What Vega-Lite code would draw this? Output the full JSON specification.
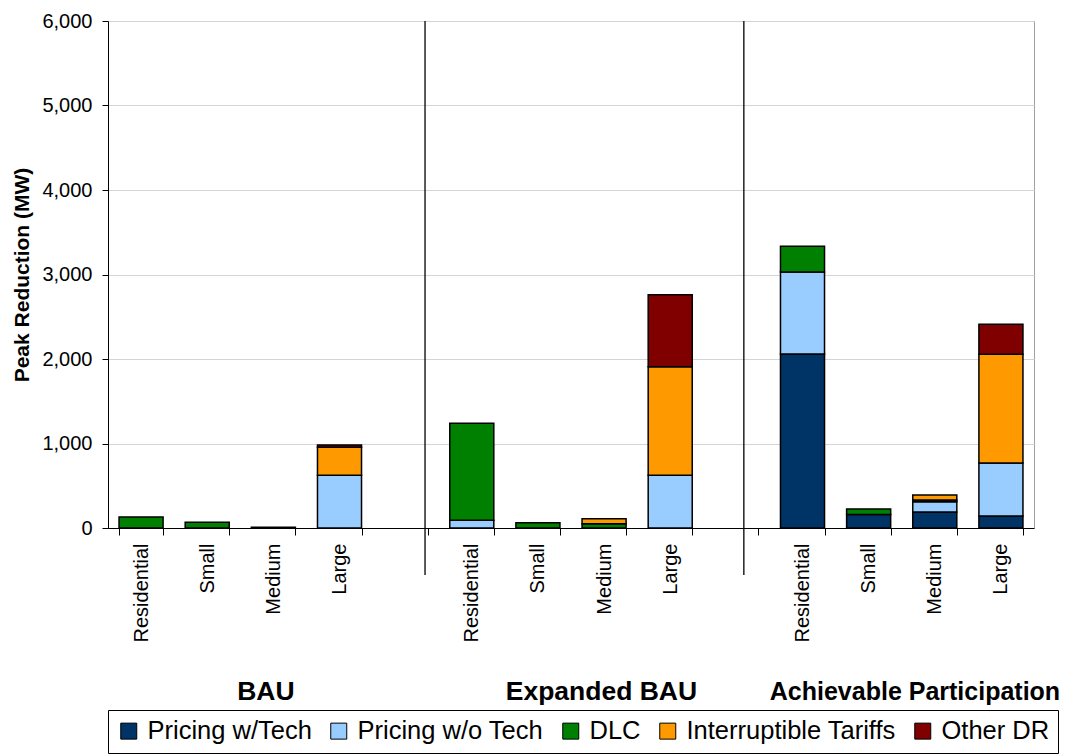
{
  "$schema": "https://vega.github.io/schema/vega-lite/v6.json",
  "width": 926,
  "height": 507,
  "autosize": "none",
  "padding": {"left": 108, "top": 21, "right": 31, "bottom": 226},
  "background": "white",
  "config": {
    "font": "Liberation Sans",
    "view": {"stroke": "#a0a0a0", "strokeWidth": 1}
  },
  "datasets": {
    "bars": [
      {"slot": "BAU|Residential", "type": "DLC", "k": 3, "mw": 130},
      {"slot": "BAU|Small", "type": "DLC", "k": 3, "mw": 67},
      {"slot": "BAU|Medium", "type": "DLC", "k": 3, "mw": 10},
      {"slot": "BAU|Large", "type": "Pricing w/o Tech", "k": 2, "mw": 623},
      {"slot": "BAU|Large", "type": "Interruptible Tariffs", "k": 4, "mw": 332},
      {"slot": "BAU|Large", "type": "Other DR", "k": 5, "mw": 27},
      {"slot": "Expanded BAU|Residential", "type": "Pricing w/o Tech", "k": 2, "mw": 91},
      {"slot": "Expanded BAU|Residential", "type": "DLC", "k": 3, "mw": 1148},
      {"slot": "Expanded BAU|Small", "type": "DLC", "k": 3, "mw": 63},
      {"slot": "Expanded BAU|Medium", "type": "DLC", "k": 3, "mw": 50},
      {"slot": "Expanded BAU|Medium", "type": "Interruptible Tariffs", "k": 4, "mw": 60},
      {"slot": "Expanded BAU|Large", "type": "Pricing w/o Tech", "k": 2, "mw": 623},
      {"slot": "Expanded BAU|Large", "type": "Interruptible Tariffs", "k": 4, "mw": 1286},
      {"slot": "Expanded BAU|Large", "type": "Other DR", "k": 5, "mw": 852},
      {"slot": "Achievable|Residential", "type": "Pricing w/Tech", "k": 1, "mw": 2059},
      {"slot": "Achievable|Residential", "type": "Pricing w/o Tech", "k": 2, "mw": 971},
      {"slot": "Achievable|Residential", "type": "DLC", "k": 3, "mw": 303},
      {"slot": "Achievable|Small", "type": "Pricing w/Tech", "k": 1, "mw": 160},
      {"slot": "Achievable|Small", "type": "DLC", "k": 3, "mw": 65},
      {"slot": "Achievable|Medium", "type": "Pricing w/Tech", "k": 1, "mw": 190},
      {"slot": "Achievable|Medium", "type": "Pricing w/o Tech", "k": 2, "mw": 122},
      {"slot": "Achievable|Medium", "type": "DLC", "k": 3, "mw": 20},
      {"slot": "Achievable|Medium", "type": "Interruptible Tariffs", "k": 4, "mw": 60},
      {"slot": "Achievable|Large", "type": "Pricing w/Tech", "k": 1, "mw": 142},
      {"slot": "Achievable|Large", "type": "Pricing w/o Tech", "k": 2, "mw": 627},
      {"slot": "Achievable|Large", "type": "Interruptible Tariffs", "k": 4, "mw": 1286},
      {"slot": "Achievable|Large", "type": "Other DR", "k": 5, "mw": 355}
    ]
  },
  "layer": [
    {
      "data": {"name": "bars"},
      "mark": {"type": "bar", "stroke": "black", "strokeWidth": 1.5},
      "encoding": {
        "x": {
          "field": "slot",
          "type": "nominal",
          "scale": {
            "domain": ["BAU|Residential", "BAU|Small", "BAU|Medium", "BAU|Large", "gap1|",
                       "Expanded BAU|Residential", "Expanded BAU|Small", "Expanded BAU|Medium", "Expanded BAU|Large", "gap2|",
                       "Achievable|Residential", "Achievable|Small", "Achievable|Medium", "Achievable|Large"],
            "paddingInner": 0.334,
            "paddingOuter": 0.167
          },
          "axis": {
            "title": null,
            "labelExpr": "split(datum.value, '|')[1]",
            "labelAngle": -90,
            "labelAlign": "right",
            "labelBaseline": "middle",
            "labelFontSize": 20,
            "labelColor": "black",
            "labelPadding": 8,
            "labelLimit": 0,
            "tickBand": "extent",
            "tickSize": 7,
            "tickColor": "black",
            "domainColor": "black",
            "grid": false
          }
        },
        "y": {
          "field": "mw",
          "type": "quantitative",
          "stack": "zero",
          "scale": {"domain": [0, 6000], "nice": false},
          "axis": {
            "title": "Peak Reduction (MW)",
            "titleFontSize": 21,
            "titleFontWeight": "bold",
            "titleColor": "black",
            "titlePadding": 9,
            "labelFontSize": 20,
            "labelColor": "black",
            "labelPadding": 10,
            "format": ",.0f",
            "values": [0, 1000, 2000, 3000, 4000, 5000, 6000],
            "gridColor": "#d4d4d4",
            "domainColor": "black",
            "tickColor": "black",
            "tickSize": 6
          }
        },
        "color": {
          "field": "type",
          "type": "nominal",
          "scale": {
            "domain": ["Pricing w/Tech", "Pricing w/o Tech", "DLC", "Interruptible Tariffs", "Other DR"],
            "range": ["#003366", "#99CCFF", "#008000", "#FF9900", "#800000"]
          },
          "legend": {
            "orient": "none",
            "legendX": 0,
            "legendY": 689,
            "direction": "horizontal",
            "title": null,
            "labelFontSize": 25.5,
            "labelColor": "black",
            "labelLimit": 0,
            "labelOffset": 6,
            "symbolType": "square",
            "symbolSize": 256,
            "symbolStrokeColor": "black",
            "symbolStrokeWidth": 1,
            "strokeColor": "black",
            "padding": 8,
            "columnPadding": 14
          }
        },
        "order": {"field": "k", "type": "quantitative"}
      }
    },
    {
      "data": {"values": [{"slot": "gap1|", "top": 6000, "bottom": -556}]},
      "mark": {"type": "rule", "color": "black", "strokeWidth": 1.3},
      "encoding": {
        "x": {"field": "slot", "type": "nominal", "bandPosition": 0.94},
        "y": {"field": "top", "type": "quantitative", "scale": {"domain": [0, 6000], "nice": false}},
        "y2": {"field": "bottom"}
      }
    },
    {
      "data": {"values": [{"slot": "gap2|", "top": 6000, "bottom": -556}]},
      "mark": {"type": "rule", "color": "black", "strokeWidth": 1.3},
      "encoding": {
        "x": {"field": "slot", "type": "nominal", "bandPosition": 0.67},
        "y": {"field": "top", "type": "quantitative", "scale": {"domain": [0, 6000], "nice": false}},
        "y2": {"field": "bottom"}
      }
    },
    {
      "data": {"values": [{"slot": "BAU|Medium", "label": "BAU", "ypos": -1941}]},
      "mark": {"type": "text", "fontSize": 26.5, "fontWeight": "bold", "color": "black", "align": "center", "baseline": "middle"},
      "encoding": {
        "x": {"field": "slot", "type": "nominal", "bandPosition": 0.33},
        "y": {"field": "ypos", "type": "quantitative", "scale": {"domain": [0, 6000], "nice": false}},
        "text": {"field": "label"}
      }
    },
    {
      "data": {"values": [{"slot": "Expanded BAU|Medium", "label": "Expanded BAU", "ypos": -1941}]},
      "mark": {"type": "text", "fontSize": 26.5, "fontWeight": "bold", "color": "black", "align": "center", "baseline": "middle"},
      "encoding": {
        "x": {"field": "slot", "type": "nominal", "bandPosition": 0.44},
        "y": {"field": "ypos", "type": "quantitative", "scale": {"domain": [0, 6000], "nice": false}},
        "text": {"field": "label"}
      }
    },
    {
      "data": {"values": [{"slot": "Achievable|Medium", "label": "Achievable Participation", "ypos": -1941}]},
      "mark": {"type": "text", "fontSize": 25, "fontWeight": "bold", "color": "black", "align": "center", "baseline": "middle"},
      "encoding": {
        "x": {"field": "slot", "type": "nominal", "bandPosition": 0.05},
        "y": {"field": "ypos", "type": "quantitative", "scale": {"domain": [0, 6000], "nice": false}},
        "text": {"field": "label"}
      }
    }
  ]
}
